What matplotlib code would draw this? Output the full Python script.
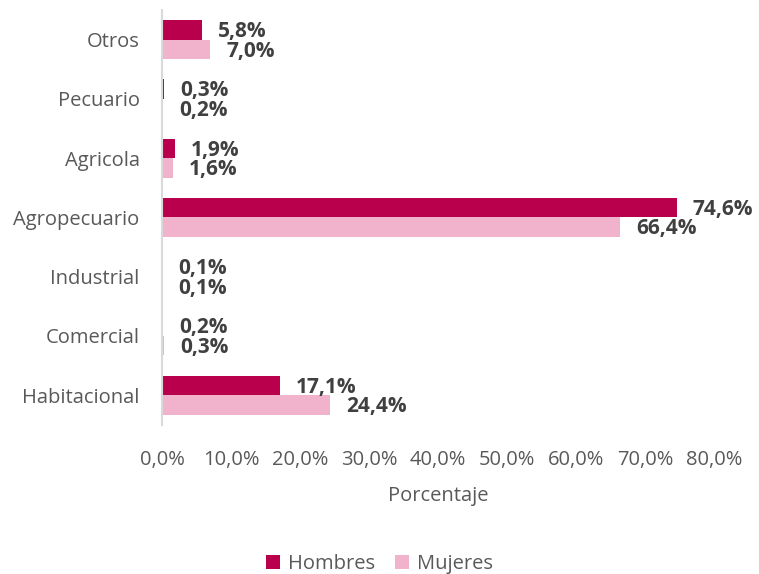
import matplotlib
matplotlib.use("Agg")
import matplotlib.pyplot as plt
import numpy as np

plt.rcParams['font.family'] = ['Open Sans', 'DejaVu Sans']

categorias = ["Otros", "Pecuario", "Agricola", "Agropecuario", "Industrial", "Comercial", "Habitacional"]
hombres = [5.8, 0.3, 1.9, 74.6, 0.1, 0.2, 17.1]
mujeres = [7.0, 0.2, 1.6, 66.4, 0.1, 0.3, 24.4]
ticks = [0, 10, 20, 30, 40, 50, 60, 70, 80]

col_h = "#B8004D"
col_m = "#F0B3CB"
gris = "#595959"

fig = plt.figure(figsize=(7.59, 5.74), dpi=100)
ax = fig.add_axes([0.2134, 0.26, 0.7273, 0.7226])

y = np.arange(len(categorias))
h = 0.33
ax.barh(y - h / 2, hombres, height=h, color=col_h, label="Hombres")
ax.barh(y + h / 2, mujeres, height=h, color=col_m, label="Mujeres")

for yi, v in zip(y, hombres):
    ax.annotate(f"{v:.1f}%".replace(".", ","), (v, yi - h / 2 + 0.03), xytext=(11.5, 0),
                textcoords="offset points", va="center", ha="left",
                fontsize=15, fontweight="bold", color="#404040")
for yi, v in zip(y, mujeres):
    ax.annotate(f"{v:.1f}%".replace(".", ","), (v, yi + h / 2 + 0.03), xytext=(11.5, 0),
                textcoords="offset points", va="center", ha="left",
                fontsize=15, fontweight="bold", color="#404040")

ax.set_ylim(len(categorias) - 0.5, -0.5)
ax.set_xlim(0, 80)
ax.set_yticks(y)
ax.set_yticklabels(categorias, fontsize=14.5, color=gris)
ax.set_xticks(ticks)
ax.set_xticklabels([f"{t:.1f}%".replace(".", ",") for t in ticks], fontsize=14.5, color=gris)
ax.tick_params(length=0, pad=16)
ax.tick_params(axis="x", pad=18)
ax.set_xlabel("Porcentaje", fontsize=14.5, color=gris, labelpad=12)

for s in ["top", "right", "bottom"]:
    ax.spines[s].set_visible(False)
ax.spines["left"].set_color("#D9D9D9")
ax.spines["left"].set_linewidth(1.5)

fig.legend(loc="lower center", bbox_to_anchor=(0.5, -0.032), ncol=2, frameon=False,
           fontsize=14.5, labelcolor=gris, handlelength=0.7, handleheight=0.7,
           handletextpad=0.4, columnspacing=1.0)

fig.savefig("out.png", dpi=100)
